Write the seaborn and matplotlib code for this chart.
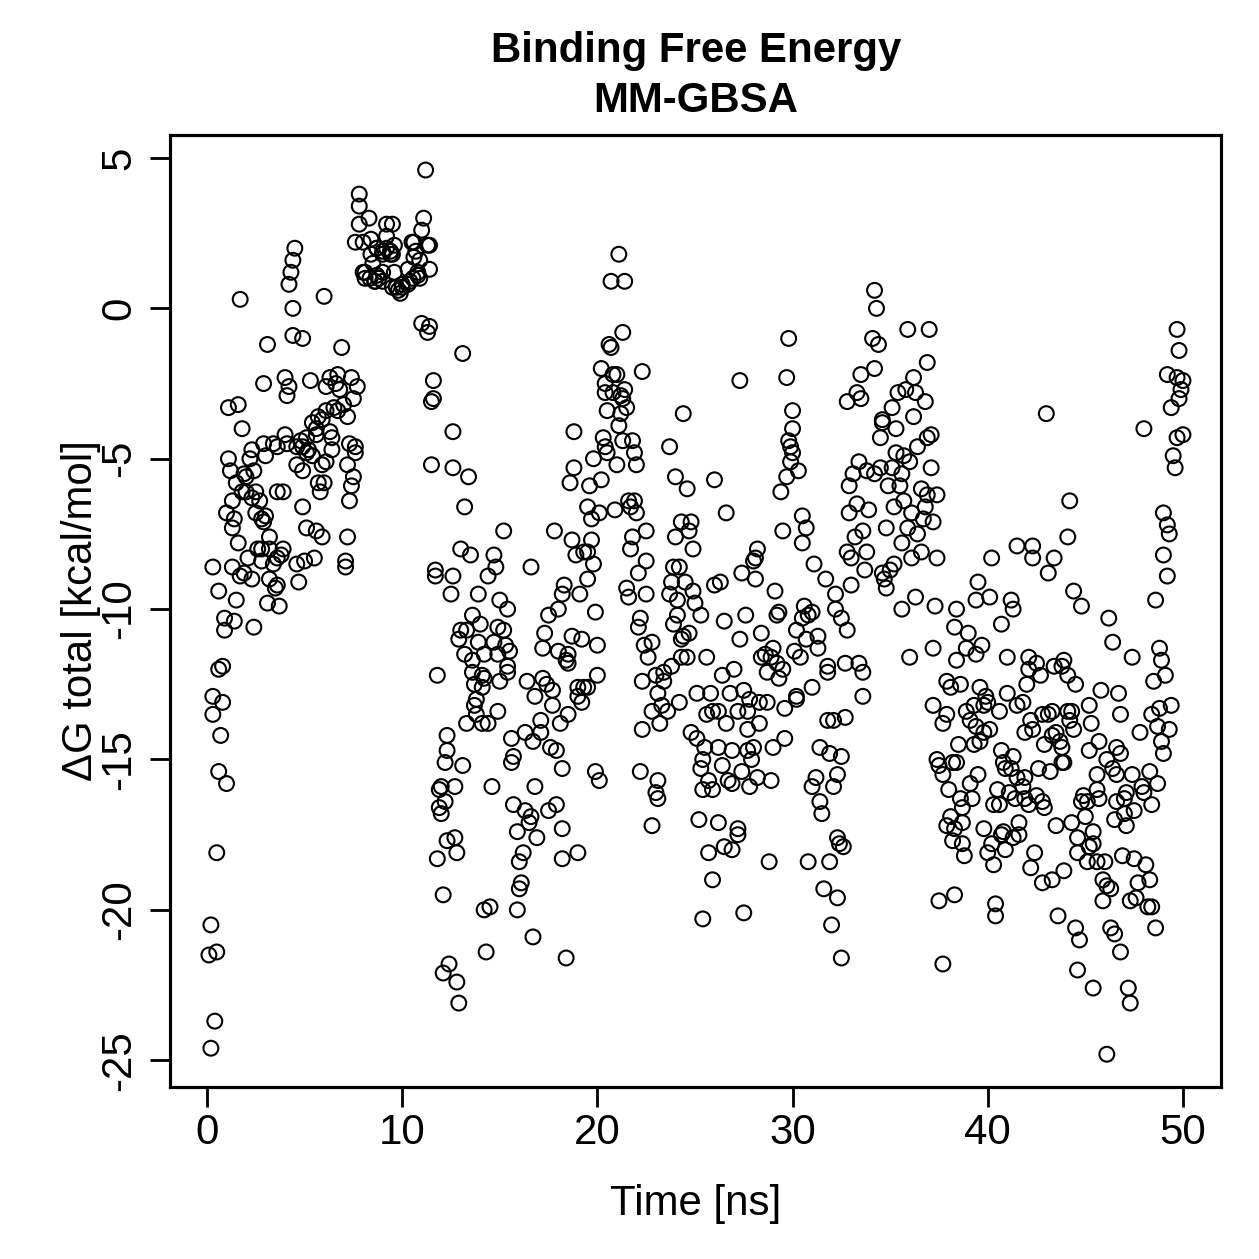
import matplotlib
matplotlib.use("Agg")
import matplotlib.pyplot as plt
import seaborn as sns
import pandas as pd

# ---------------- data: (time [ns], dG total [kcal/mol]) ----------------
early_phase = [
    (0.2, -20.5), (0.1, -21.5), (0.5, -21.4), (0.4, -23.7), (0.2, -24.6), (0.5, -18.1),
    (0.9, -10.3), (1.4, -10.4), (0.9, -10.7), (2.4, -10.6), (0.8, -11.9), (0.6, -12.0), (0.3, -12.9),
    (0.8, -13.1), (0.3, -13.5), (0.7, -14.2), (0.6, -15.4), (1.0, -15.8),
    (4.5, 2.0), (4.4, 1.6), (4.3, 1.2), (4.2, 0.8), (1.7, 0.3), (6.0, 0.4), (4.4, 0.0), (4.4, -0.9),
    (4.9, -1.0), (3.1, -1.2), (6.9, -1.3), (6.7, -2.2),
    (2.9, -2.5), (4.0, -2.3), (4.2, -2.6), (4.1, -2.9), (5.3, -2.4), (6.3, -2.3), (6.1, -2.6), (6.6, -2.5),
    (6.8, -2.7), (7.4, -2.3), (7.7, -2.6), (7.5, -3.0), (1.1, -3.3), (1.6, -3.2), (6.5, -3.3), (6.1, -3.4),
    (6.7, -3.4), (7.0, -3.2), (7.2, -3.6), (5.7, -3.6), (5.4, -3.8), (5.9, -3.7), (5.6, -4.0), (1.8, -4.0),
    (4.0, -4.2), (5.6, -4.2), (6.3, -4.1), (6.4, -4.3), (4.8, -4.4), (5.1, -4.3), (2.9, -4.5), (3.4, -4.5),
    (3.6, -4.6), (4.1, -4.5), (4.6, -4.6), (4.9, -4.6), (5.2, -4.7), (5.1, -4.8), (5.4, -4.9), (6.4, -4.7),
    (7.3, -4.5), (7.6, -4.6), (7.6, -4.8), (2.3, -4.7), (1.1, -5.0), (2.2, -5.0), (3.0, -4.9), (4.6, -5.2),
    (4.9, -5.4), (5.9, -5.2), (6.1, -5.1), (7.2, -5.2), (1.2, -5.4), (1.9, -5.5), (2.4, -5.4), (2.0, -5.6),
    (7.5, -5.6), (1.5, -5.8), (5.7, -5.8), (6.0, -5.8), (5.8, -6.1), (7.4, -5.9), (3.6, -6.1), (3.9, -6.1),
    (1.8, -6.1), (2.0, -6.1), (2.5, -6.1), (1.3, -6.4), (2.3, -6.3), (2.7, -6.4), (7.3, -6.4), (1.0, -6.8),
    (1.4, -7.0), (2.5, -6.8), (3.0, -6.9), (2.8, -7.0), (2.9, -7.1), (4.9, -6.6), (1.3, -7.3), (5.1, -7.3),
    (5.6, -7.4), (5.9, -7.6), (1.6, -7.8), (3.2, -7.6), (7.2, -7.6), (2.6, -8.0), (2.8, -8.0), (3.2, -8.0),
    (3.9, -8.0), (3.8, -8.2), (3.6, -8.3), (3.4, -8.5), (2.8, -8.4), (2.1, -8.3), (4.6, -8.5), (5.0, -8.4),
    (5.5, -8.3), (7.1, -8.4), (7.1, -8.6), (0.3, -8.6), (1.3, -8.6), (1.7, -8.9), (1.9, -8.8), (2.3, -9.0),
    (3.2, -9.0), (3.6, -9.2), (3.5, -9.3), (4.7, -9.1), (0.6, -9.4), (1.5, -9.7), (3.1, -9.8), (3.7, -9.9),
]

bound_cluster = [
    (11.2, 4.6), (7.8, 3.8), (7.8, 3.4), (8.3, 3.0), (7.8, 2.8), (9.2, 2.8), (9.5, 2.8), (11.1, 3.0),
    (11.0, 2.6), (9.2, 2.4), (7.6, 2.2), (8.0, 2.2), (8.4, 2.3), (10.6, 2.2), (10.5, 2.2), (11.3, 2.1),
    (11.4, 2.1), (8.7, 2.0), (9.2, 2.0), (9.6, 2.1), (8.4, 1.8), (9.0, 1.8), (9.4, 1.8), (10.7, 1.9),
    (10.6, 1.7), (10.9, 1.6), (8.5, 1.5), (8.0, 1.2), (8.1, 1.0), (8.7, 1.1), (9.0, 1.2), (9.6, 1.2),
    (10.3, 1.3), (10.8, 1.2), (11.4, 1.3), (8.6, 0.9), (9.0, 0.9), (9.7, 0.7), (10.0, 0.8), (10.4, 0.9),
    (10.9, 1.0), (9.9, 0.5),
    (9.5, 0.7), (9.8, 0.6), (10.0, 0.7), (10.3, 0.8), (10.55, 1.0), (10.8, 1.1),
    (8.1, 1.2), (8.35, 1.0), (8.6, 0.9), (8.8, 1.0), (8.7, 2.0), (9.0, 1.9), (9.4, 1.9), (9.5, 1.8),
]

transition_phase = [
    (11.0, -0.5), (11.4, -0.6), (11.3, -0.8), (13.1, -1.5),
    (11.6, -2.4), (11.6, -3.0), (11.5, -3.1), (12.6, -4.1), (11.5, -5.2), (12.6, -5.3), (13.4, -5.6),
    (13.2, -6.6), (15.2, -7.4), (13.0, -8.0), (13.5, -8.2), (14.7, -8.2), (14.8, -8.6), (14.4, -8.9),
    (11.7, -8.7), (11.7, -8.9), (12.6, -8.9), (12.5, -9.5), (13.9, -9.5), (15.0, -9.7), (15.4, -10.0),
    (13.6, -10.2), (14.0, -10.5), (14.9, -10.6), (15.2, -10.7), (13.0, -10.7), (13.3, -10.7), (12.9, -11.0),
    (13.9, -11.1), (14.7, -11.1), (15.3, -11.2), (15.5, -11.4), (14.9, -11.5), (14.2, -11.5), (13.2, -11.5),
    (13.6, -11.7), (15.4, -11.9), (15.4, -12.1), (13.6, -12.1), (14.1, -12.2), (14.2, -12.3), (15.0, -12.4),
    (13.7, -12.5), (14.1, -12.6), (11.8, -12.2), (13.8, -13.0), (13.7, -13.2), (13.8, -13.5), (14.9, -13.4),
    (13.3, -13.8), (14.1, -13.8), (14.4, -13.8), (12.3, -14.2), (15.6, -14.3), (12.3, -14.7), (12.2, -15.1),
    (13.1, -15.2), (15.7, -14.9), (15.6, -15.1), (12.0, -15.9), (11.9, -16.0), (12.7, -15.9), (14.6, -15.9),
    (12.2, -16.4), (11.9, -16.6), (12.0, -16.8), (15.7, -16.5), (15.9, -17.4), (12.3, -17.7), (12.7, -17.6),
    (12.8, -18.1), (11.8, -18.3),
    (12.1, -19.5), (14.2, -20.0), (14.5, -19.9), (16.0, -18.4), (16.1, -19.1), (16.0, -19.3), (15.9, -20.0),
    (14.3, -21.4), (12.4, -21.8), (12.1, -22.1), (12.8, -22.4), (12.9, -23.1),
]

mid_upper = [
    (21.1, 1.8), (20.7, 0.9), (21.4, 0.9), (21.3, -0.8), (20.6, -1.2), (20.7, -1.3), (20.2, -2.0),
    (20.8, -2.2), (21.0, -2.2), (22.3, -2.1), (29.8, -1.0), (27.3, -2.4), (29.7, -2.3), (33.5, -2.2),
    (20.4, -2.5), (20.4, -2.8), (20.8, -2.8), (21.4, -2.7), (21.2, -2.9), (21.3, -3.0), (21.5, -3.3),
    (20.5, -3.4), (21.2, -3.5), (21.1, -3.9), (20.3, -4.3), (21.3, -4.4), (21.8, -4.4), (20.4, -4.6),
    (20.5, -4.8), (21.9, -4.8), (19.8, -5.0), (21.0, -5.2), (22.0, -5.2), (18.8, -4.1), (18.8, -5.3),
    (18.6, -5.8), (19.6, -5.9), (20.2, -5.7), (19.5, -6.6), (19.7, -7.0), (20.1, -6.8), (20.9, -6.7),
    (21.6, -6.4), (21.9, -6.4), (21.7, -6.6), (22.0, -6.8), (24.4, -3.5), (23.7, -4.6), (24.0, -5.6),
    (24.6, -6.0), (26.0, -5.7), (30.0, -3.4), (30.0, -4.0), (29.8, -4.4), (29.9, -4.6), (30.0, -4.8),
    (29.9, -5.1), (30.3, -5.4), (29.7, -5.6), (29.4, -6.1), (33.3, -2.8), (33.5, -3.0), (32.8, -3.1),
    (33.4, -5.1), (33.1, -5.5), (33.8, -5.4), (32.9, -5.9), (33.3, -6.5), (32.9, -6.8), (33.9, -6.7),
    (17.8, -7.4), (18.7, -7.7), (19.7, -7.7), (18.9, -8.2), (19.3, -8.1), (19.5, -8.1), (19.8, -8.5),
    (16.6, -8.6), (19.5, -9.0), (18.3, -9.2), (18.2, -9.5), (19.1, -9.5), (18.0, -10.0), (17.5, -10.2),
    (19.9, -10.1), (21.8, -7.6), (21.7, -8.0), (22.5, -7.4), (22.5, -8.4), (22.1, -8.8), (21.5, -9.3),
    (21.6, -9.6), (22.5, -9.5), (22.2, -10.3), (24.0, -7.6), (24.3, -7.1), (24.8, -7.1), (24.7, -7.4),
    (24.9, -8.0), (23.9, -8.6), (24.2, -8.6), (23.8, -9.1), (24.5, -9.1), (24.9, -9.4), (25.0, -9.8),
    (23.7, -9.5), (24.1, -9.7), (24.1, -10.2), (25.3, -10.2), (26.6, -6.8), (26.0, -9.2), (26.3, -9.1),
    (27.4, -8.8), (28.2, -8.0), (28.1, -8.3), (28.0, -8.4), (28.1, -9.0), (26.5, -10.4), (27.6, -10.2),
    (29.1, -9.4), (29.3, -10.1), (29.2, -10.2), (29.5, -7.4), (30.5, -6.9), (30.7, -7.3), (30.5, -7.8),
    (31.1, -8.5), (31.7, -9.0), (32.2, -9.5), (32.2, -10.0), (32.5, -10.3), (30.6, -9.9), (31.0, -10.1),
    (30.8, -10.2), (30.5, -10.3), (33.0, -9.2), (32.8, -8.1), (33.0, -8.3), (33.2, -7.6), (33.6, -7.4),
    (33.8, -8.1), (33.7, -8.7),
]

mid_lower = [
    (17.3, -10.8), (18.7, -10.9), (19.2, -11.0), (20.0, -11.2), (17.2, -11.3), (18.0, -11.4), (18.5, -11.5),
    (18.4, -11.7), (18.5, -11.8), (16.4, -12.4), (17.2, -12.3), (17.4, -12.5), (17.7, -12.7), (16.8, -12.9),
    (19.0, -12.6), (19.3, -12.6), (19.5, -12.6), (19.0, -12.9), (19.2, -13.1), (20.0, -12.2), (17.7, -13.2),
    (18.5, -13.5), (18.1, -13.8), (17.1, -13.7), (16.3, -14.1), (16.7, -14.4), (17.1, -14.1), (17.6, -14.6),
    (17.9, -14.7), (18.2, -15.3), (19.9, -15.4), (20.1, -15.7), (16.8, -15.9), (17.9, -16.5), (17.5, -16.7),
    (16.3, -16.7), (16.6, -16.9), (16.5, -17.1), (18.2, -17.3), (16.9, -17.6), (16.2, -18.1), (19.0, -18.1),
    (18.2, -18.3),
    (22.1, -10.6), (23.9, -10.5), (24.4, -10.9), (24.7, -10.8), (24.3, -11.0), (22.4, -11.2), (22.8, -11.1),
    (22.6, -11.6), (24.3, -11.6), (24.6, -11.6), (25.6, -11.6), (22.3, -12.4), (23.0, -12.2), (23.4, -12.1),
    (23.8, -11.9), (23.4, -12.4), (23.1, -12.8), (22.8, -13.4), (23.3, -13.2), (23.6, -13.4), (24.2, -13.1),
    (23.2, -13.8), (22.3, -14.0), (22.2, -15.4), (23.1, -15.7), (23.0, -16.1), (23.1, -16.3), (22.8, -17.2),
    (25.2, -17.0), (26.2, -17.1), (27.2, -17.3), (27.2, -17.5), (26.5, -17.9), (26.9, -18.0), (25.7, -18.1),
    (27.3, -11.0), (28.4, -10.8), (26.4, -12.2), (27.0, -12.0), (25.1, -12.8), (25.8, -12.8), (26.8, -12.8),
    (27.5, -12.7), (27.8, -13.0), (25.6, -13.5), (25.9, -13.4), (26.2, -13.4), (26.6, -13.8), (27.2, -13.4),
    (27.7, -13.4), (27.7, -14.0), (28.3, -13.8), (24.8, -14.1), (25.1, -14.3), (25.5, -14.6), (26.2, -14.6),
    (26.9, -14.7), (27.7, -14.7), (28.0, -14.6), (27.9, -15.0), (25.4, -15.0), (25.3, -15.3), (26.4, -15.2),
    (25.7, -15.7), (25.9, -16.0), (25.4, -16.0), (26.7, -15.7), (26.9, -15.8), (27.4, -15.4), (27.8, -15.9),
    (28.2, -15.6), (28.9, -15.7), (29.0, -14.6), (29.6, -14.3), (28.3, -13.1), (28.7, -13.1), (29.6, -13.3),
    (30.2, -12.9), (30.2, -13.0), (31.0, -12.6), (28.7, -12.1), (29.3, -12.3), (29.5, -12.0), (29.2, -11.8),
    (28.9, -11.6), (28.6, -11.5), (28.4, -11.6), (29.0, -11.3), (30.1, -11.4), (30.4, -11.6), (30.7, -11.0),
    (31.3, -10.9), (31.3, -11.3), (30.2, -10.7), (32.8, -10.7), (31.8, -11.9), (31.8, -12.1), (32.7, -11.8),
    (33.4, -11.8), (33.6, -12.1), (33.6, -12.9), (31.8, -13.7), (32.1, -13.7), (32.7, -13.6), (31.4, -14.6),
    (31.9, -14.8), (32.5, -14.9), (31.2, -15.6), (31.0, -15.9), (32.1, -15.9), (32.3, -15.5), (31.4, -16.4),
    (31.5, -16.8), (32.3, -17.6), (32.4, -17.8), (32.6, -17.9),
    (16.7, -20.9), (18.4, -21.6), (25.9, -19.0), (25.4, -20.3), (27.5, -20.1), (28.8, -18.4),
    (30.8, -18.4), (31.9, -18.4), (31.6, -19.3), (32.3, -19.6), (32.0, -20.5), (32.5, -21.6),
]

late_upper = [
    (34.2, 0.6), (34.3, 0.0), (34.1, -1.0), (34.4, -1.2), (34.2, -2.0), (35.9, -0.7), (37.0, -0.7),
    (36.9, -1.8), (36.2, -2.3), (35.4, -2.8), (35.8, -2.7), (36.3, -2.8), (36.8, -3.1), (35.1, -3.3),
    (34.6, -3.7), (34.6, -3.8), (35.3, -4.0), (36.2, -3.6), (34.5, -4.3), (37.1, -4.2), (36.9, -4.3),
    (36.4, -4.6), (35.3, -4.8), (35.7, -4.9), (36.0, -5.1), (34.5, -5.3), (34.2, -5.5), (35.1, -5.3),
    (35.6, -5.5), (37.1, -5.3), (34.9, -5.9), (35.5, -5.9), (36.6, -6.0), (36.9, -6.2), (37.4, -6.2),
    (35.7, -6.4), (35.2, -6.6), (36.1, -6.8), (36.8, -6.6), (36.7, -7.0), (37.2, -7.1), (34.8, -7.3),
    (35.9, -7.3), (36.4, -7.5), (35.6, -7.8), (36.6, -8.1), (36.1, -8.3), (37.4, -8.3), (35.2, -8.5),
    (35.0, -8.7), (34.6, -8.8), (34.7, -9.0), (34.8, -9.3), (36.3, -9.6), (35.6, -10.0), (37.3, -9.9),
    (38.4, -10.0), (39.4, -9.7), (40.1, -9.6), (39.5, -9.1), (40.2, -8.3), (41.5, -7.9), (42.3, -7.9),
    (42.3, -8.3), (43.4, -8.3), (43.1, -8.8), (41.2, -9.7), (41.3, -10.0), (44.1, -7.6), (44.2, -6.4),
    (44.4, -9.4), (44.8, -9.9), (43.0, -3.5), (48.0, -4.0), (49.4, -3.3), (49.8, -3.0), (49.9, -2.7),
    (50.0, -2.4), (49.2, -2.2), (49.7, -4.3), (50.0, -4.2), (49.5, -4.9), (49.6, -5.3), (49.0, -6.8),
    (49.2, -7.2), (49.3, -7.5), (49.0, -8.2), (49.2, -8.9), (48.6, -9.7), (49.7, -0.7), (49.8, -1.4),
    (49.7, -2.3),
]

late_lower = [
    (38.3, -10.6), (39.0, -10.8), (40.7, -10.5), (46.2, -10.3), (46.4, -11.1), (37.2, -11.3), (36.0, -11.6),
    (38.9, -11.3), (39.4, -11.5), (39.7, -11.2), (38.4, -11.7), (41.0, -11.6), (42.1, -11.6), (42.5, -11.8),
    (42.1, -12.0), (42.7, -12.2), (43.4, -11.9), (43.9, -11.7), (43.8, -11.9), (44.1, -12.2), (44.5, -12.5),
    (47.4, -11.6), (48.8, -11.3), (48.9, -11.7), (49.1, -12.2), (48.5, -12.4), (37.9, -12.4), (38.1, -12.6),
    (38.6, -12.5), (39.6, -12.6), (39.9, -12.9), (40.0, -13.1), (39.8, -13.2), (39.3, -13.2), (38.9, -13.4),
    (37.9, -13.5), (37.7, -13.8), (37.2, -13.2), (39.1, -13.7), (39.4, -13.9), (39.8, -14.1), (40.1, -14.0),
    (39.6, -14.4), (39.3, -14.5), (38.5, -14.5), (41.0, -12.8), (41.5, -13.2), (41.8, -13.1), (42.0, -12.5),
    (40.6, -13.4), (42.2, -13.7), (42.3, -14.0), (41.9, -14.1), (42.8, -13.5), (43.1, -13.5), (43.3, -13.4),
    (44.1, -13.4), (44.3, -13.4), (44.2, -13.7), (44.4, -14.0), (45.2, -13.2), (45.3, -13.8), (45.8, -12.7),
    (46.7, -12.8), (46.8, -13.5), (48.4, -13.5), (48.8, -13.3), (49.4, -13.2), (48.7, -13.9), (49.3, -14.0),
    (47.8, -14.1), (48.9, -14.4), (49.0, -14.8), (43.3, -14.2), (43.5, -14.1), (43.7, -14.4), (42.9, -14.5),
    (43.8, -14.6), (43.9, -15.1), (43.8, -15.1), (42.6, -15.3), (43.2, -15.4), (45.7, -14.4), (45.2, -14.7),
    (46.6, -14.6), (46.8, -14.8), (46.1, -15.0), (46.4, -15.3), (46.6, -15.5), (45.6, -15.5), (47.4, -15.5),
    (48.3, -15.4), (48.7, -15.8), (47.9, -15.9), (48.0, -16.1), (48.4, -16.5), (47.1, -16.1), (46.6, -16.4),
    (47.0, -16.3), (47.0, -16.8), (47.5, -16.7), (46.5, -17.0), (47.1, -17.2), (45.6, -16.0), (45.7, -16.3),
    (44.9, -16.2), (44.8, -16.4), (45.1, -16.4), (45.0, -16.9), (44.3, -17.1), (43.5, -17.2), (44.6, -17.6),
    (45.4, -17.4), (45.4, -17.8), (45.2, -17.9), (44.6, -18.1), (40.7, -14.7), (40.8, -15.1), (41.3, -14.9),
    (40.9, -15.3), (41.2, -15.3), (41.5, -15.6), (41.9, -15.6), (41.8, -15.9), (41.4, -16.3), (41.9, -16.3),
    (42.1, -16.5), (42.5, -16.2), (42.8, -16.4), (42.9, -16.6), (40.5, -16.0), (40.3, -16.5), (40.6, -16.5),
    (41.1, -16.1), (39.5, -15.5), (39.1, -15.8), (39.2, -16.3), (38.6, -16.3), (38.7, -16.6), (38.7, -17.1),
    (38.3, -17.3), (38.0, -16.0), (38.2, -15.1), (38.4, -15.1), (37.4, -15.0), (37.5, -15.2), (37.7, -15.5),
    (38.1, -16.9), (37.9, -17.2), (38.2, -17.7), (38.7, -17.8), (38.8, -18.2), (39.8, -17.3), (40.2, -17.8),
    (40.8, -17.4), (40.9, -18.0), (40.7, -17.5), (41.3, -17.6), (41.6, -17.1), (41.6, -17.5), (40.0, -18.1),
    (42.4, -18.1),
    (40.3, -18.5), (42.2, -18.6), (42.8, -19.1), (43.3, -19.0), (43.9, -18.7), (45.1, -18.4), (45.6, -18.4),
    (46.0, -18.4), (46.9, -18.2), (47.5, -18.3), (48.1, -18.5), (47.7, -19.1), (48.3, -19.0), (45.9, -19.0),
    (46.1, -19.2), (46.3, -19.3), (45.9, -19.7), (47.3, -19.7), (47.6, -19.6), (48.2, -19.9), (48.4, -19.9),
    (37.5, -19.7), (38.3, -19.5), (40.4, -19.8), (40.4, -20.2), (43.6, -20.2), (44.5, -20.6), (44.7, -21.0),
    (46.3, -20.6), (46.5, -20.8), (46.8, -21.4), (48.6, -20.6), (37.7, -21.8), (44.6, -22.0), (45.4, -22.6),
    (47.2, -22.6), (47.3, -23.1), (46.1, -24.8),
]

x_ticks = [0, 10, 20, 30, 40, 50]
y_ticks = [-25, -20, -15, -10, -5, 0, 5]
title_lines = ["Binding Free Energy", "MM-GBSA"]
x_label = "Time [ns]"
y_label = "\u0394G total [kcal/mol]"

segments = [early_phase, bound_cluster, transition_phase, mid_upper, mid_lower, late_upper, late_lower]
rows = [p for seg in segments for p in seg]
df = pd.DataFrame(rows, columns=["time", "dg"])

# ---------------- styling ----------------
sns.set_theme(style="ticks")
plt.rcParams['font.family'] = ['Liberation Sans', 'DejaVu Sans']
plt.rcParams['font.size'] = 12
plt.rcParams['text.color'] = 'black'
plt.rcParams['axes.labelcolor'] = 'black'
plt.rcParams['xtick.color'] = 'black'
plt.rcParams['ytick.color'] = 'black'

W = 1259
DPI = 251.8
fig = plt.figure(figsize=(W / DPI, W / DPI), dpi=DPI)
fig.patch.set_facecolor("white")
ax = fig.add_axes([170 / W, 1 - 1087 / W, (1221 - 170) / W, (1087 - 135) / W])

sns.scatterplot(data=df, x="time", y="dg", ax=ax, s=18, marker="o",
                facecolor="none", edgecolor="black", linewidth=0.6, legend=False)

ax.set_xlim(-1.895, 51.95)
ax.set_ylim(-25.89, 5.765)
ax.set_xticks(x_ticks)
ax.set_yticks(y_ticks)
ax.set_xticklabels([str(v) for v in x_ticks])
ax.set_yticklabels([str(v) for v in y_ticks], rotation=90, va="center")
ax.tick_params(axis="both", direction="out", length=5.8, width=0.8, color="black",
               labelsize=12, labelcolor="black")
ax.tick_params(axis="x", pad=1.5)
ax.tick_params(axis="y", pad=3)
for sp in ax.spines.values():
    sp.set_visible(True)
    sp.set_linewidth(0.9)
    sp.set_color("black")
ax.set_xlabel("")
ax.set_ylabel("")
ax.grid(False)

fig.text(696 / W, 1 - 62 / W, title_lines[0], ha="center", va="baseline",
         fontsize=12, fontweight="bold", color="black")
fig.text(696 / W, 1 - 112 / W, title_lines[1], ha="center", va="baseline",
         fontsize=12, fontweight="bold", color="black")
fig.text(696 / W, 1 - 1215 / W, x_label, ha="center", va="baseline", fontsize=12, color="black")
fig.text(81 / W, 1 - 611 / W, y_label, ha="center", va="center", rotation=90, fontsize=12,
         color="black")

fig.savefig("out.png", dpi=DPI, facecolor="white")
